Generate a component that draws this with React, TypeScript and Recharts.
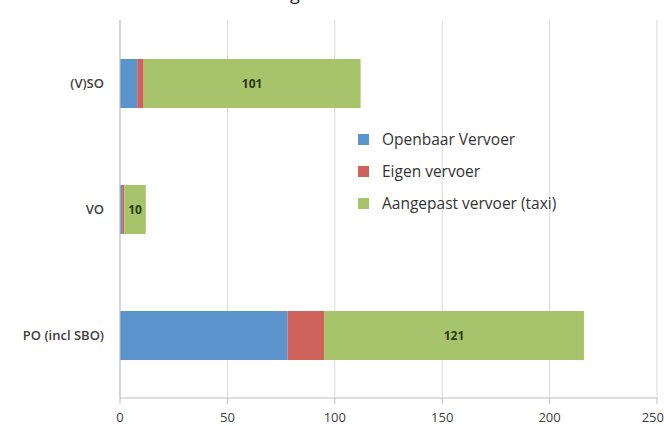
import React from 'react';
import { BarChart, Bar, XAxis, YAxis, CartesianGrid, LabelList } from 'recharts';

const categories = ['(V)SO', 'VO', 'PO (incl SBO)'];
const openbaarVervoer = [8, 1, 78];
const eigenVervoer = [3, 1, 17];
const aangepastVervoer = [101, 10, 121];
const xTicks = [0, 50, 100, 150, 200, 250];
const bandEdges = [0, 1, 2, 3];

const seriesInfo = [
  { key: 'ov', name: 'Openbaar Vervoer', color: '#5B94CD' },
  { key: 'eigen', name: 'Eigen vervoer', color: '#D0625C' },
  { key: 'taxi', name: 'Aangepast vervoer (taxi)', color: '#A7C46A' },
];

const data = categories.map((cat, i) => ({
  cat,
  ov: openbaarVervoer[i],
  eigen: eigenVervoer[i],
  taxi: aangepastVervoer[i],
}));

const font = '"Open Sans", sans-serif';

function LegendBox() {
  return (
    <div style={{ fontFamily: font, fontSize: 15.5, color: '#333' }}>
      {seriesInfo.map((s) => (
        <div key={s.key} style={{ display: 'flex', alignItems: 'center', height: 32 }}>
          <span style={{ width: 11, height: 11, background: s.color, display: 'inline-block', marginRight: 13 }} />
          <span>{s.name}</span>
        </div>
      ))}
    </div>
  );
}

export default function App() {
  return (
    <div style={{ position: 'absolute', left: 0, top: 0, width: 664, height: 426, background: '#fff', overflow: 'hidden' }}>
      <div style={{ position: 'absolute', left: 233, top: -19, fontFamily: font, fontSize: 18, lineHeight: 'normal', color: '#222', whiteSpace: 'nowrap' }}>
        Leerlingenvervoer
      </div>
      <BarChart
        width={664}
        height={426}
        data={data}
        layout="vertical"
        margin={{ top: 20, right: 7, left: 0, bottom: 0 }}
        barSize={49}
      >
        <CartesianGrid horizontal={false} stroke="#d9d9d9" />
        <XAxis
          type="number"
          domain={[0, 250]}
          ticks={xTicks}
          height={28}
          stroke="#bfbfbf"
          tickSize={6}
          tickMargin={9}
          tick={{ fill: '#404040', fontSize: 13, fontFamily: font }}
        />
        <YAxis
          type="category"
          dataKey="cat"
          width={120}
          stroke="#bfbfbf"
          tickLine={false}
          tickMargin={10}
          tick={{ fill: '#404040', fontSize: 13, fontWeight: 600, fontFamily: font }}
        />
        <YAxis
          yAxisId="edges"
          type="number"
          domain={[0, 3]}
          ticks={bandEdges}
          width={0}
          axisLine={false}
          stroke="#bfbfbf"
          tickSize={5}
          tickFormatter={() => ''}
        />
        {seriesInfo.map((s) => (
          <Bar key={s.key} dataKey={s.key} name={s.name} stackId="a" fill={s.color} isAnimationActive={false}>
            {s.key === 'taxi' && (
              <LabelList
                dataKey="taxi"
                position="center"
                style={{ fill: '#2b3a12', fontSize: 12, fontWeight: 'bold', fontFamily: font }}
              />
            )}
          </Bar>
        ))}
      </BarChart>
      <div style={{ position: 'absolute', left: 358, top: 123, width: 260 }}>
        <LegendBox />
      </div>
    </div>
  );
}
